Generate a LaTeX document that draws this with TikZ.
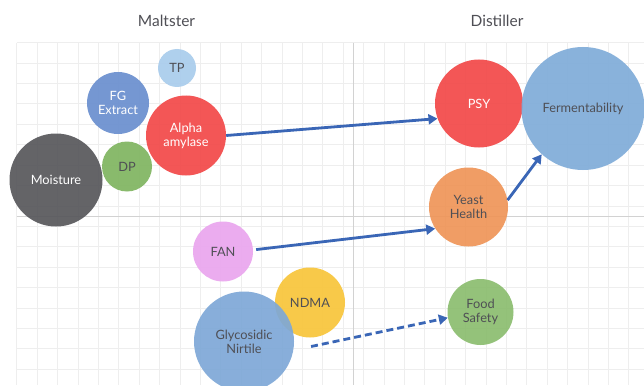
\documentclass[tikz,border=0pt]{standalone}
\usepackage{fontspec}
\setmainfont{Lato}
\usetikzlibrary{arrows.meta}
\definecolor{gridc}{HTML}{EEEEEE}
\definecolor{axisc}{HTML}{D2D2D2}
\definecolor{txtdark}{HTML}{4F4F55}
\definecolor{arrowc}{HTML}{3A66B6}
\definecolor{cTP}{HTML}{A9CCEC}
\definecolor{cFG}{HTML}{6A8FCF}
\definecolor{cRed}{HTML}{F24848}
\definecolor{cDP}{HTML}{80B560}
\definecolor{cMoist}{HTML}{57575B}
\definecolor{cFerm}{HTML}{80ACD9}
\definecolor{cYeast}{HTML}{EF9558}
\definecolor{cFAN}{HTML}{EAA6EE}
\definecolor{cNDMA}{HTML}{F8C53A}
\definecolor{cGly}{HTML}{7EA8D7}
\definecolor{cFood}{HTML}{8BBD6F}
\tikzset{
  bubble/.style={circle, inner sep=0pt, align=center, fill opacity=0.92, text opacity=1,
    font=\fontsize{12.8}{14}\selectfont, text=txtdark},
  lighttext/.style={text=white},
  title/.style={font=\fontsize{15.5}{17}\selectfont, text=txtdark},
  link/.style={draw=arrowc, line width=2.8pt, -{Triangle[length=9pt,width=10pt]}},
  dashedlink/.style={link, dash pattern=on 7pt off 4pt},
}
\begin{document}
\begin{tikzpicture}[x=1pt,y=-1pt]
\useasboundingbox (0,0) rectangle (644,385);
\fill[white] (0,0) rectangle (644,385);
\begin{scope}
\clip (0,0) rectangle (644,385);
\foreach \i in {0,...,30} \draw[gridc, line width=0.8pt] ({16.7+\i*20.4},42.7) -- ({16.7+\i*20.4},385);
\foreach \j in {0,...,16} \draw[gridc, line width=0.8pt] (16.7,{42.7+\j*20.4}) -- (644,{42.7+\j*20.4});
\draw[axisc, line width=1pt] (16.7,216.5) -- (644,216.5);
\draw[axisc, line width=1pt] (353.3,42.7) -- (353.3,385);
\end{scope}

\node[title] (maltster) at (166.5,20.5) {Maltster};
\node[title] (distiller) at (497,20.5) {Distiller};

\node[bubble, fill=cTP, minimum size=38pt] (tp) at (177,68) {TP};
\node[bubble, lighttext, fill=cFG, minimum size=62pt] (fg) at (118,103) {FG\\Extract};
\node[bubble, fill=cDP, minimum size=50pt] (dp) at (127,166.5) {DP};
\node[bubble, lighttext, fill=cMoist, minimum size=93pt] (moist) at (56,180) {Moisture};
\node[bubble, lighttext, fill=cRed, minimum size=80pt] (alpha) at (186,135.5) {Alpha\\amylase};

\node[bubble, lighttext, fill=cRed, minimum size=88pt] (psy) at (479,103.5) {PSY};
\node[bubble, fill=cFerm, minimum size=123pt] (ferm) at (583,108.5) {Fermentability};
\node[bubble, fill=cYeast, minimum size=79pt] (yeast) at (468.5,207) {Yeast\\Health};
\node[bubble, fill=cFAN, minimum size=60pt] (fan) at (223,251.5) {FAN};
\node[bubble, fill=cNDMA, minimum size=70pt] (ndma) at (310,302.5) {NDMA};
\node[bubble, fill=cGly, minimum size=100pt] (gly) at (244,341.5) {Glycosidic\\Nirtile};
\node[bubble, fill=cFood, minimum size=66pt] (food) at (480.5,312) {Food\\Safety};

\draw[link] (alpha.east) -- (psy.200);
\draw[link, shorten <=3pt] (fan.3) -- (yeast.213);
\draw[link] (yeast.10) -- (ferm.228);
\draw[dashedlink, shorten <=18pt] (gly.-10) -- (food.190);
\end{tikzpicture}
\end{document}
